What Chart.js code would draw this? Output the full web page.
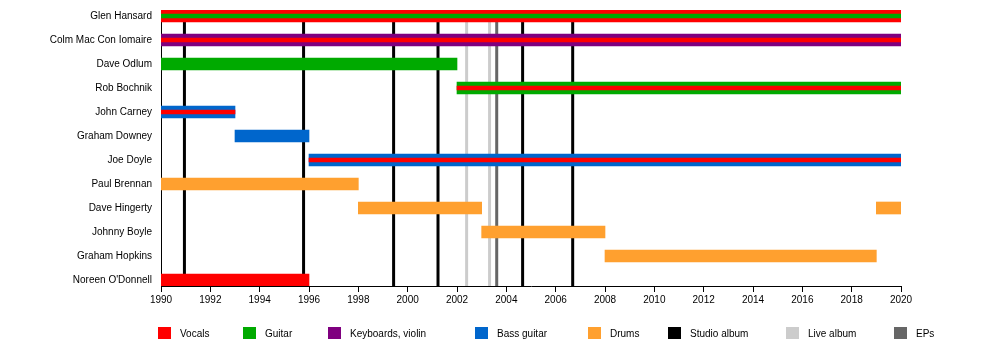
<!DOCTYPE html>
<html>
<head>
<meta charset="utf-8">
<title>The Frames members timeline</title>
<script src="https://cdn.jsdelivr.net/npm/chart.js@4.4.1/dist/chart.umd.min.js"></script>
<style>
  html, body { margin: 0; padding: 0; background: #fff; }
  canvas { display: block; }
</style>
</head>
<body>
<canvas id="timeline" width="1000" height="345"></canvas>
<script>
// band members, top to bottom
const members = [
  'Glen Hansard', 'Colm Mac Con Iomaire', 'Dave Odlum', 'Rob Bochnik',
  'John Carney', 'Graham Downey', 'Joe Doyle', 'Paul Brennan',
  'Dave Hingerty', 'Johnny Boyle', 'Graham Hopkins', "Noreen O'Donnell"
];

// main role (thick bar), one entry per member: [from, to] or null
const vocals = [[1990, 2020], null, null, null, null, null, null, null, null, null, null, [1990, 1996]];
const guitar = [null, null, [1990, 2002], [2002, 2020], null, null, null, null, null, null, null, null];
const keyboards = [null, [1990, 2020], null, null, null, null, null, null, null, null, null, null];
const bass = [null, null, null, null, [1990, 1993], [1993, 1996], [1996, 2020], null, null, null, null, null];
const drums = [null, null, null, null, null, null, null, [1990, 1998], [1998, 2003], [2003, 2008], [2008, 2019], null];
const drumsReturn = [null, null, null, null, null, null, null, null, [2019, 2020], null, null, null];

// secondary role (thin stripe)
const vocalsStripe = [null, [1990, 2020], null, [2002, 2020], [1990, 1993], null, [1996, 2020], null, null, null, null, null];
const guitarStripe = [[1990, 2020], null, null, null, null, null, null, null, null, null, null, null];

// releases
const studioAlbums = [1990.95, 1995.78, 1999.43, 2001.23, 2004.66, 2006.69];
const liveAlbums = [2002.39, 2003.32];
const eps = [2003.61];

const legendLabels = ['Vocals', 'Guitar', 'Keyboards, violin', 'Bass guitar', 'Drums', 'Studio album', 'Live album', 'EPs'];

const colors = {
  vocals: '#ff0000',
  guitar: '#00aa00',
  keyboards: '#7f007f',
  bass: '#0066cc',
  drums: '#ffa02f',
  studio: '#000000',
  live: '#cccccc',
  ep: '#666666'
};
const legendColors = [colors.vocals, colors.guitar, colors.keyboards, colors.bass, colors.drums, colors.studio, colors.live, colors.ep];
const legendX = [158, 243, 328, 475, 588, 668, 786, 894];

function toPoints(periods) {
  const pts = [];
  periods.forEach((p, i) => {
    if (p) pts.push({ x: p, y: i });
  });
  return pts;
}

function barSet(label, periods, color, thickness, order) {
  return {
    label: label,
    data: toPoints(periods),
    backgroundColor: color,
    borderWidth: 0,
    barThickness: thickness,
    grouped: false,
    order: order
  };
}

// release lines behind the bars
const releaseLines = {
  id: 'releaseLines',
  beforeDatasetsDraw(chart) {
    const ctx = chart.ctx;
    const area = chart.chartArea;
    const xs = chart.scales.x;
    const groups = [
      [liveAlbums, colors.live],
      [eps, colors.ep],
      [studioAlbums, colors.studio]
    ];
    ctx.save();
    ctx.lineWidth = 3;
    groups.forEach(([list, color]) => {
      ctx.strokeStyle = color;
      list.forEach(v => {
        const x = xs.getPixelForValue(v);
        ctx.beginPath();
        ctx.moveTo(x, area.top);
        ctx.lineTo(x, area.bottom);
        ctx.stroke();
      });
    });
    ctx.restore();
  }
};

// legend row under the axis
const bottomLegend = {
  id: 'bottomLegend',
  afterDraw(chart) {
    const ctx = chart.ctx;
    ctx.save();
    ctx.font = '10px "Liberation Sans", Arial, sans-serif';
    ctx.textBaseline = 'middle';
    ctx.textAlign = 'left';
    legendLabels.forEach((txt, i) => {
      ctx.fillStyle = legendColors[i];
      ctx.fillRect(legendX[i], 327, 13, 12);
      ctx.fillStyle = '#000';
      ctx.fillText(txt, legendX[i] + 22, 334);
    });
    ctx.restore();
  }
};

Chart.defaults.font.family = '"Liberation Sans", Arial, sans-serif';
Chart.defaults.font.size = 10;
Chart.defaults.color = '#000';

const ctx = document.getElementById('timeline').getContext('2d');
const timelineChart = new Chart(ctx, {
  type: 'bar',
  data: {
    datasets: [
      barSet('Vocals', vocals, colors.vocals, 12, 2),
      barSet('Guitar', guitar, colors.guitar, 12, 2),
      barSet('Keyboards, violin', keyboards, colors.keyboards, 12, 2),
      barSet('Bass guitar', bass, colors.bass, 12, 2),
      barSet('Drums', drums, colors.drums, 12, 2),
      barSet('Drums', drumsReturn, colors.drums, 12, 2),
      barSet('Vocals', vocalsStripe, colors.vocals, 4, 1),
      barSet('Guitar', guitarStripe, colors.guitar, 4, 1)
    ]
  },
  options: {
    indexAxis: 'y',
    responsive: false,
    animation: false,
    layout: { padding: { top: 10, right: 99, left: 0, bottom: 0 } },
    plugins: {
      legend: { display: false },
      tooltip: { enabled: false }
    },
    scales: {
      x: {
        type: 'linear',
        position: 'bottom',
        min: 1990,
        max: 2020,
        afterFit(scale) { scale.height = 59; },
        ticks: {
          stepSize: 2,
          padding: 2,
          maxRotation: 0,
          callback: v => String(v)
        },
        grid: {
          drawOnChartArea: false,
          drawTicks: true,
          tickLength: 6,
          color: '#000'
        },
        border: { display: true, color: '#000', width: 1 }
      },
      y: {
        type: 'linear',
        reverse: true,
        offset: false,
        min: -0.25,
        max: members.length - 0.75,
        afterFit(scale) {
          scale.width = 161;
          scale.paddingTop = 0;
          scale.paddingBottom = 0;
        },
        afterBuildTicks(scale) {
          scale.ticks = members.map((m, i) => ({ value: i }));
        },
        ticks: {
          padding: 9,
          autoSkip: false,
          callback: v => members[v]
        },
        grid: { display: false, drawTicks: false },
        border: { display: true, color: '#000', width: 1 }
      }
    }
  },
  plugins: [releaseLines, bottomLegend]
});
</script>
</body>
</html>
